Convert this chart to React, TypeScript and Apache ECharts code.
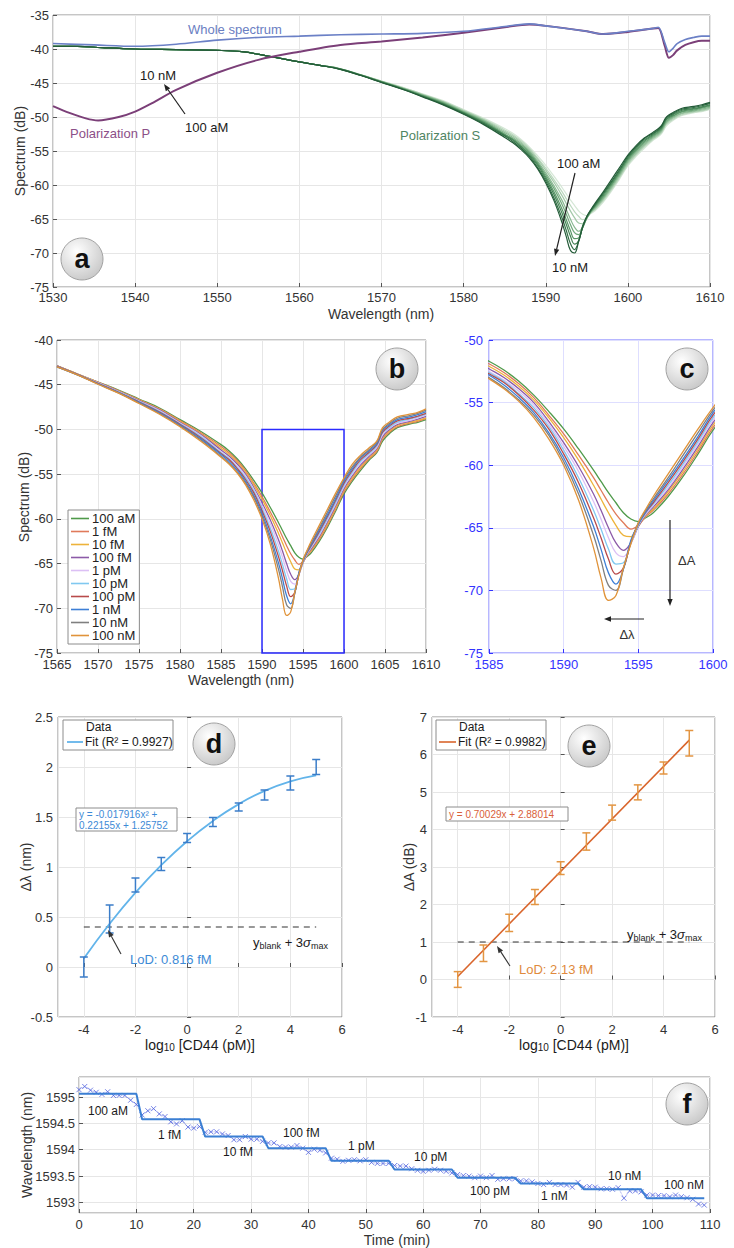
import React, { useEffect, useRef } from 'react';
import * as echarts from 'echarts';

const FONT = "'Liberation Sans', Arial, Helvetica, sans-serif";

// ---------- Concentrations (panels a, b, c) ----------
const concNames = ['100 aM', '1 fM', '10 fM', '100 fM', '1 pM', '10 pM', '100 pM', '1 nM', '10 nM', '100 nM'];
const concColors = ['#4f9a4a', '#e07a5a', '#edb33a', '#8c5aa8', '#dcc0f5', '#80c8f0', '#b84a4a', '#3d7fd6', '#7f7f7f', '#e0933a'];
const greenShades = ['#d5e7d6', '#bcd8bf', '#a3c9a8', '#89b991', '#70a87b', '#589666', '#438354', '#316f45', '#245c39'];

// S-polarization spectra, wavelength (nm)
const wlS = [1565, 1567.5, 1570, 1572.5, 1575, 1577.5, 1580, 1582.5,
  1585, 1586, 1587, 1588, 1589, 1590, 1591, 1592, 1592.5, 1593, 1593.5, 1594, 1594.5, 1595, 1595.5, 1596, 1597, 1598, 1599, 1600,
  1601, 1602, 1603, 1604, 1604.7, 1605.5, 1606.5, 1608, 1609, 1610];

const s100aM = [-42.9, -43.8, -44.7, -45.6, -46.6, -47.6, -48.9, -50.2,
  -51.7, -52.4, -53.3, -54.4, -55.7, -57.1, -58.7, -60.4, -61.3, -62.2, -63.0, -63.8, -64.3, -64.5, -64.2, -63.8, -62.5, -60.9, -59.1, -57.2,
  -55.8, -54.6, -53.5, -52.6, -51.3, -50.5, -49.8, -49.4, -49.2, -48.9];
const s1fM = [-42.9, -43.8, -44.72, -45.65, -46.65, -47.7, -49.0, -50.35,
  -51.9, -52.6, -53.5, -54.6, -56.0, -57.5, -59.2, -61.0, -62.0, -63.0, -63.9, -64.6, -65.1, -64.8, -64.1, -63.6, -62.3, -60.7, -58.9, -57.0,
  -55.6, -54.4, -53.35, -52.45, -51.1, -50.35, -49.7, -49.3, -49.1, -48.8];
const s10fM = [-42.9, -43.8, -44.75, -45.7, -46.7, -47.75, -49.1, -50.45,
  -52.1, -52.8, -53.7, -54.8, -56.2, -57.8, -59.6, -61.6, -62.7, -63.8, -64.8, -65.6, -65.7, -64.9, -64.0, -63.5, -62.1, -60.5, -58.7, -56.8,
  -55.4, -54.2, -53.2, -52.3, -50.9, -50.2, -49.55, -49.2, -49.0, -48.7];
const s100fM = [-42.9, -43.85, -44.78, -45.73, -46.76, -47.82, -49.2, -50.55,
  -52.3, -53.0, -53.9, -55.0, -56.5, -58.2, -60.1, -62.3, -63.6, -65.0, -66.2, -66.8, -66.2, -64.9, -63.95, -63.35, -61.95, -60.3, -58.5, -56.6,
  -55.2, -54.0, -53.05, -52.15, -50.8, -50.05, -49.45, -49.1, -48.85, -48.55];
const s1pM = [-42.95, -43.85, -44.8, -45.77, -46.82, -47.9, -49.28, -50.65,
  -52.5, -53.2, -54.1, -55.2, -56.7, -58.5, -60.5, -62.9, -64.3, -65.8, -67.0, -67.3, -66.3, -64.8, -63.9, -63.2, -61.8, -60.1, -58.3, -56.4,
  -55.0, -53.8, -52.9, -52.0, -50.6, -49.9, -49.3, -49.0, -48.7, -48.4];
const s10pM = [-42.95, -43.85, -44.83, -45.8, -46.87, -47.98, -49.36, -50.78,
  -52.6, -53.3, -54.3, -55.4, -56.9, -58.8, -61.0, -63.6, -65.1, -66.7, -67.9, -67.8, -66.2, -64.8, -63.8, -63.1, -61.6, -59.9, -58.1, -56.2,
  -54.8, -53.6, -52.75, -51.85, -50.4, -49.8, -49.2, -48.85, -48.6, -48.3];
const s100pM = [-42.95, -43.85, -44.86, -45.84, -46.93, -48.06, -49.43, -50.9,
  -52.7, -53.4, -54.4, -55.6, -57.1, -59.1, -61.4, -64.2, -65.8, -67.5, -68.7, -68.2, -66.1, -64.7, -63.75, -63.0, -61.4, -59.7, -57.9, -56.0,
  -54.6, -53.4, -52.6, -51.7, -50.3, -49.65, -49.05, -48.75, -48.5, -48.2];
const s1nM = [-43.0, -43.9, -44.9, -45.88, -46.98, -48.14, -49.5, -51.03,
  -52.8, -53.6, -54.6, -55.8, -57.4, -59.4, -61.9, -64.9, -66.7, -68.6, -69.5, -68.3, -66.0, -64.7, -63.7, -62.85, -61.2, -59.5, -57.7, -55.8,
  -54.4, -53.2, -52.45, -51.55, -50.1, -49.5, -48.9, -48.6, -48.35, -48.0];
const s10nM = [-43.0, -43.9, -44.92, -45.92, -47.04, -48.22, -49.6, -51.16,
  -53.0, -53.8, -54.8, -56.0, -57.6, -59.7, -62.3, -65.6, -67.6, -69.6, -70.0, -68.3, -66.2, -64.6, -63.6, -62.7, -61.0, -59.2, -57.4, -55.6,
  -54.2, -53.1, -52.3, -51.4, -50.0, -49.35, -48.75, -48.45, -48.2, -47.85];
const s100nM = [-43.0, -43.9, -44.95, -45.95, -47.1, -48.3, -49.7, -51.3,
  -53.1, -53.9, -54.9, -56.2, -57.9, -60.0, -62.8, -66.6, -69.0, -70.8, -70.4, -68.2, -66.3, -64.6, -63.5, -62.5, -60.7, -58.9, -57.1, -55.4,
  -53.9, -52.9, -52.1, -51.3, -49.8, -49.2, -48.6, -48.3, -48.1, -47.7];
const sCurves = [s100aM, s1fM, s10fM, s100fM, s1pM, s10pM, s100pM, s1nM, s10nM, s100nM];

// common part of the S spectra in panel a (1530-1562.5 nm)
const wlCommonA = [1530, 1533, 1536, 1540, 1545, 1550, 1553, 1556, 1560, 1562.5];
const sCommonA = [-39.6, -39.6, -39.8, -40.0, -40.1, -40.2, -40.4, -41.0, -41.9, -42.4];

// whole spectrum
const wlWhole = [1530, 1535, 1540, 1545, 1550, 1555, 1560, 1565, 1570, 1575, 1580, 1585, 1588, 1590, 1595, 1597, 1600, 1603, 1603.7, 1604.5, 1605, 1605.5, 1606, 1607, 1608, 1609, 1610];
const wholeVals = [-39.2, -39.4, -39.6, -39.3, -38.7, -38.3, -38.1, -37.9, -37.8, -37.7, -37.4, -36.7, -36.3, -36.6, -37.4, -37.8, -37.4, -37.0, -36.8, -39.1, -40.4, -39.9, -39.2, -38.6, -38.3, -38.1, -38.1];
// polarization P
const wlP = [1530, 1532, 1534, 1535.5, 1538, 1540, 1542, 1545, 1550, 1555, 1560, 1565, 1570, 1575, 1580, 1585, 1588, 1590, 1595, 1597, 1600, 1603, 1603.7, 1604.5, 1605, 1605.5, 1606, 1607, 1608, 1609, 1610];
const pVals = [-48.4, -49.4, -50.2, -50.5, -50.0, -49.2, -48.0, -46.0, -43.5, -41.6, -40.4, -39.4, -38.9, -38.3, -37.6, -36.8, -36.4, -36.6, -37.4, -37.8, -37.5, -37.0, -36.9, -39.6, -41.3, -40.9, -40.2, -39.4, -39.0, -38.8, -38.8];

// zoom box drawn in panel b (region of panel c)
const zoomBoxX = [1590, 1600];
const zoomBoxY = [-75, -50];

// ---------- Panels d, e ----------
const logConc = [-4, -3, -2, -1, 0, 1, 2, 3, 4, 5];
const dMean = [0.0, 0.48, 0.82, 1.03, 1.29, 1.45, 1.6, 1.72, 1.84, 2.0];
const dErr = [0.1, 0.14, 0.07, 0.065, 0.045, 0.045, 0.04, 0.05, 0.07, 0.075];
const dFit = [0.085, 0.432, 0.743, 1.018, 1.258, 1.461, 1.629, 1.761, 1.857, 1.917];
const dThreshold = 0.4;

const eMean = [0.0, 0.7, 1.51, 2.2, 2.97, 3.68, 4.45, 4.99, 5.64, 6.3];
const eErr = [0.21, 0.22, 0.23, 0.2, 0.17, 0.23, 0.2, 0.2, 0.16, 0.34];
const eFitX = [-4, 5];
const eFit = [0.079, 6.382];
const eThreshold = 1.0;

// ---------- Panel f ----------
const fVals = [1595.14, 1595.2, 1595.13, 1595.09, 1595.05, 1595.1, 1595.03, 1595.03, 1595.03, 1594.94,
  1594.86, 1594.66, 1594.74, 1594.78, 1594.68, 1594.63, 1594.53, 1594.49, 1594.55, 1594.43,
  1594.41, 1594.44, 1594.33, 1594.34, 1594.34, 1594.3, 1594.27, 1594.19, 1594.19, 1594.25,
  1594.2, 1594.2, 1594.16, 1594.13, 1594.13, 1594.06, 1594.05, 1594.05, 1594.08, 1594.03,
  1593.95, 1594.01, 1593.99, 1593.94, 1593.84, 1593.82, 1593.78, 1593.8, 1593.81, 1593.79,
  1593.81, 1593.76, 1593.74, 1593.74, 1593.74, 1593.7, 1593.69, 1593.69, 1593.64, 1593.61,
  1593.59, 1593.61, 1593.63, 1593.61, 1593.59, 1593.56, 1593.53, 1593.51, 1593.5, 1593.47,
  1593.5, 1593.47, 1593.51, 1593.44, 1593.45, 1593.45, 1593.45, 1593.41, 1593.41, 1593.39,
  1593.36, 1593.34, 1593.38, 1593.34, 1593.34, 1593.33, 1593.29, 1593.38, 1593.29, 1593.3,
  1593.29, 1593.26, 1593.26, 1593.25, 1593.28, 1593.08, 1593.22, 1593.22, 1593.2, 1593.14,
  1593.14, 1593.13, 1593.13, 1593.11, 1593.14, 1593.11, 1593.09, 1593.06, 1592.97, 1592.95];
const fLevels = [1595.06, 1594.58, 1594.25, 1594.03, 1593.79, 1593.625, 1593.47, 1593.36, 1593.25, 1593.08];
const fStepStart = [0, 11, 22, 33, 44, 55, 66, 77, 88, 99];
const fStepEnd = [10, 21, 32, 43, 54, 65, 76, 87, 98, 109];
const fLabels = ['100 aM', '1 fM', '10 fM', '100 fM', '1 pM', '10 pM', '100 pM', '1 nM', '10 nM', '100 nM'];

// ---------- helpers ----------
const txt = (x: number, y: number, text: string, o: any = {}) => ({
  type: 'text', x, y, z: o.z || 60, silent: true, rotation: o.rot || 0,
  style: {
    text, fill: o.color || '#1a1a1a',
    font: `${o.weight || 'normal'} ${o.size || 13}px ${FONT}`,
    fontFamily: FONT, fontSize: o.size || 13, fontWeight: o.weight || 'normal',
    align: o.align || 'left', textAlign: o.align || 'left',
    verticalAlign: o.va || 'middle', textVerticalAlign: o.va || 'middle',
    rich: o.rich,
  },
});

const arrow = (x1: number, y1: number, x2: number, y2: number, color = '#222', head = 7, width = 1.2) => {
  const ang = Math.atan2(y2 - y1, x2 - x1);
  const hx = x2 - head * Math.cos(ang);
  const hy = y2 - head * Math.sin(ang);
  const px = Math.sin(ang) * head * 0.38;
  const py = -Math.cos(ang) * head * 0.38;
  return [
    { type: 'line', z: 60, silent: true, shape: { x1, y1, x2: hx, y2: hy }, style: { stroke: color, lineWidth: width } },
    { type: 'polygon', z: 60, silent: true, shape: { points: [[x2, y2], [hx + px, hy + py], [hx - px, hy - py]] }, style: { fill: color } },
  ];
};

const badge = (cx: number, cy: number, letter: string) => [
  {
    type: 'circle', z: 70, silent: true, shape: { cx, cy, r: 21 },
    style: {
      fill: new echarts.graphic.RadialGradient(0.38, 0.32, 0.75, [
        { offset: 0, color: '#ffffff' }, { offset: 1, color: '#c6c6c6' },
      ]),
      stroke: '#a2a2a2', lineWidth: 1,
    },
  },
  txt(cx, cy, letter, { size: 27, weight: 'bold', align: 'center', color: '#111', z: 72 }),
];

const AXC = '#8c8c8c';
const GRIDC = '#e6e6e6';
const plain = (v: number) => String(Math.round(v * 1000) / 1000);

const mkAxis = (gi: number, min: number, max: number, interval: number | null, o: any = {}) => {
  const ax: any = {
    type: 'value', gridIndex: gi, min, max,
    axisLine: { show: false },
    axisTick: { show: true, inside: true, length: 4, lineStyle: { color: o.tickColor || '#555' } },
    axisLabel: {
      color: o.labelColor || '#333', fontSize: 13, fontFamily: FONT, margin: o.margin ?? 5,
      showMinLabel: o.showMin ?? true, showMaxLabel: o.showMax ?? true,
      formatter: plain,
    },
    splitLine: { show: true, lineStyle: { color: o.gridColor || GRIDC, width: 1 } },
  };
  if (interval) ax.interval = interval;
  if (o.splitNumber) ax.splitNumber = o.splitNumber;
  return ax;
};

const subRich = (size: number, color = '#333') => ({
  n: { fontSize: size, fontFamily: FONT, color, lineHeight: 15, verticalAlign: 'top' },
  s: { fontSize: size - 4, fontFamily: FONT, color, lineHeight: 11, verticalAlign: 'bottom' },
  g: { fontSize: size, fontFamily: FONT, color, lineHeight: 15, verticalAlign: 'top', fontStyle: 'italic' },
});

export default function App() {
  const ref = useRef<HTMLDivElement>(null);
  useEffect(() => {
    if (!ref.current) return;
    const chart = echarts.init(ref.current, null, { renderer: 'svg' });

    const grids = [
      { left: 53, top: 15, width: 657, height: 272 },
      { left: 57, top: 340, width: 369, height: 313 },
      { left: 489, top: 340, width: 224, height: 313 },
      { left: 58, top: 717, width: 284, height: 300 },
      { left: 432, top: 717, width: 283, height: 300 },
      { left: 79, top: 1077, width: 631, height: 136 },
    ].map((g, i) => ({ ...g, show: true, borderColor: i === 2 ? '#6e6eff' : AXC, borderWidth: 1, backgroundColor: 'rgba(0,0,0,0)' }));

    const blue = '#3333ff';
    const xAxis = [
      mkAxis(0, 1530, 1610, 10, { margin: 4 }),
      mkAxis(1, 1565, 1610, 5, { margin: 5 }),
      mkAxis(2, 1585, 1600, 5, { margin: 5, labelColor: blue, tickColor: blue, gridColor: '#dedeff' }),
      mkAxis(3, -5, 6, null, { margin: 6, showMin: false, splitNumber: 5 }),
      mkAxis(4, -5, 6, null, { margin: 6, showMin: false, splitNumber: 5 }),
      mkAxis(5, 0, 110, 10, { margin: 5 }),
    ];
    const yAxis = [
      mkAxis(0, -75, -35, 5, { margin: 4 }),
      mkAxis(1, -75, -40, 5, { margin: 4 }),
      mkAxis(2, -75, -50, 5, { margin: 6, labelColor: blue, tickColor: blue, gridColor: '#dedeff' }),
      mkAxis(3, -0.5, 2.5, 0.5, { margin: 5 }),
      mkAxis(4, -1, 7, 1, { margin: 5 }),
      mkAxis(5, 1592.8, 1595.38, null, { margin: 4, showMin: false, showMax: false, splitNumber: 5 }),
    ];

    const series: any[] = [];
    // Panel a
    for (let k = 0; k < 9; k++) {
      series.push({
        type: 'line', name: 'a ' + concNames[k], xAxisIndex: 0, yAxisIndex: 0, smooth: 0.4, showSymbol: false, z: 2 + k,
        data: [...wlCommonA.map((w, i) => [w, sCommonA[i]]), ...wlS.map((w, i) => [w, sCurves[k][i]])],
        lineStyle: { color: greenShades[k], width: 1.2 }, itemStyle: { color: greenShades[k] },
      });
    }
    series.push({
      type: 'line', name: 'Polarization P', xAxisIndex: 0, yAxisIndex: 0, smooth: 0.3, showSymbol: false, z: 12,
      data: wlP.map((w, i) => [w, pVals[i]]), lineStyle: { color: '#7b3f78', width: 2 }, itemStyle: { color: '#7b3f78' },
    });
    series.push({
      type: 'line', name: 'Whole spectrum', xAxisIndex: 0, yAxisIndex: 0, smooth: 0.3, showSymbol: false, z: 13,
      data: wlWhole.map((w, i) => [w, wholeVals[i]]), lineStyle: { color: '#6b80c6', width: 1.6 }, itemStyle: { color: '#6b80c6' },
    });
    // Panels b, c
    for (const gi of [1, 2]) {
      for (let k = 0; k < 10; k++) {
        const s: any = {
          type: 'line', name: concNames[k], xAxisIndex: gi, yAxisIndex: gi, smooth: 0.4, showSymbol: false, z: 2 + k,
          data: wlS.map((w, i) => [w, sCurves[k][i]]),
          lineStyle: { color: concColors[k], width: 1.3 }, itemStyle: { color: concColors[k] },
        };
        if (gi === 1 && k === 9) {
          s.markArea = {
            silent: true,
            itemStyle: { color: 'rgba(0,0,0,0)', borderColor: '#2b2bff', borderWidth: 1.5 },
            data: [[{ xAxis: zoomBoxX[0], yAxis: zoomBoxY[1] }, { xAxis: zoomBoxX[1], yAxis: zoomBoxY[0] }]],
          };
        }
        series.push(s);
      }
    }
    // Panels d, e
    const errSeries = (gi: number, mean: number[], err: number[], color: string) => ({
      type: 'custom', name: 'err' + gi, xAxisIndex: gi, yAxisIndex: gi, z: 5,
      data: logConc.map((x, i) => [x, mean[i] - err[i], mean[i] + err[i]]),
      encode: { x: 0, y: [1, 2] },
      renderItem: (params: any, api: any) => {
        const x = api.value(0);
        const top = api.coord([x, api.value(2)]);
        const bot = api.coord([x, api.value(1)]);
        const w = 4;
        const st = { stroke: color, lineWidth: 1.5 };
        return {
          type: 'group',
          children: [
            { type: 'line', shape: { x1: top[0], y1: top[1], x2: bot[0], y2: bot[1] }, style: st },
            { type: 'line', shape: { x1: top[0] - w, y1: top[1], x2: top[0] + w, y2: top[1] }, style: st },
            { type: 'line', shape: { x1: bot[0] - w, y1: bot[1], x2: bot[0] + w, y2: bot[1] }, style: st },
          ],
        };
      },
    });
    series.push({
      type: 'line', name: 'fit d', xAxisIndex: 3, yAxisIndex: 3, smooth: true, showSymbol: false, z: 4,
      data: logConc.map((x, i) => [x, dFit[i]]), lineStyle: { color: '#62b4ea', width: 1.8 }, itemStyle: { color: '#62b4ea' },
    });
    series.push(errSeries(3, dMean, dErr, '#3b7dc9'));
    series.push({
      type: 'line', name: 'thr d', xAxisIndex: 3, yAxisIndex: 3, showSymbol: false, z: 3,
      data: [[logConc[0], dThreshold], [logConc[logConc.length - 1], dThreshold]],
      lineStyle: { color: '#333', width: 1.2, type: [6, 5] }, itemStyle: { color: '#333' },
    });
    series.push({
      type: 'line', name: 'fit e', xAxisIndex: 4, yAxisIndex: 4, showSymbol: false, z: 4,
      data: eFitX.map((x, i) => [x, eFit[i]]), lineStyle: { color: '#d9652c', width: 1.6 }, itemStyle: { color: '#d9652c' },
    });
    series.push(errSeries(4, eMean, eErr, '#e39542'));
    series.push({
      type: 'line', name: 'thr e', xAxisIndex: 4, yAxisIndex: 4, showSymbol: false, z: 3,
      data: [[logConc[0], eThreshold], [logConc[logConc.length - 1], eThreshold]],
      lineStyle: { color: '#333', width: 1.2, type: [6, 5] }, itemStyle: { color: '#333' },
    });
    // Panel f
    series.push({
      type: 'line', name: 'f dotted', xAxisIndex: 5, yAxisIndex: 5, showSymbol: false, z: 3,
      data: fVals.map((v, i) => [i, v]), lineStyle: { color: '#7a86e6', width: 0.8, type: 'dotted' }, itemStyle: { color: '#7a86e6' },
    });
    series.push({
      type: 'scatter', name: 'f data', xAxisIndex: 5, yAxisIndex: 5, z: 4,
      symbol: 'path://M0 0L10 10M10 0L0 10', symbolSize: 5,
      data: fVals.map((v, i) => [i, v]),
      itemStyle: { color: 'rgba(0,0,0,0)', borderColor: '#5465e0', borderWidth: 1 },
    });
    const stepData: number[][] = [];
    fLevels.forEach((lv, i) => { stepData.push([fStepStart[i], lv]); stepData.push([fStepEnd[i], lv]); });
    series.push({
      type: 'line', name: 'f steps', xAxisIndex: 5, yAxisIndex: 5, showSymbol: false, z: 5,
      data: stepData, lineStyle: { color: '#3b7fd3', width: 2 }, itemStyle: { color: '#3b7fd3' },
    });

    const fLabelPos = [[88, 1111], [158, 1135], [223, 1152], [283, 1133], [348, 1146], [414, 1157], [470, 1191], [541, 1196], [608, 1176], [664, 1185]];

    const el: any[] = [
      // panel a
      txt(188, 29, 'Whole spectrum', { color: '#6a7ec2' }),
      txt(70, 133, 'Polarization P', { color: '#8c4f88' }),
      txt(140, 75, '10 nM'),
      txt(185, 127, '100 aM'),
      ...arrow(185, 114, 164, 84),
      txt(400, 135, 'Polarization S', { color: '#4f8563' }),
      txt(557, 163, '100 aM'),
      txt(552, 267, '10 nM'),
      ...arrow(575, 173, 555, 256),
      txt(20, 151, 'Spectrum (dB)', { rot: Math.PI / 2, align: 'center', size: 14, color: '#333' }),
      txt(381, 314, 'Wavelength (nm)', { align: 'center', size: 14, color: '#333' }),
      // panel b
      txt(24, 497, 'Spectrum (dB)', { rot: Math.PI / 2, align: 'center', size: 14, color: '#333' }),
      txt(241, 680, 'Wavelength (nm)', { align: 'center', size: 14, color: '#333' }),
      // panel c
      ...arrow(670, 520, 670, 606, '#222', 7, 1.2),
      txt(678, 560, 'ΔA', { color: '#333' }),
      ...arrow(644, 619, 604, 619, '#222', 7, 1.2),
      txt(627, 634, 'Δλ', { align: 'center', color: '#333' }),
      // panel d
      { type: 'rect', z: 55, silent: true, shape: { x: 63, y: 720, width: 110, height: 30 }, style: { fill: '#fff', stroke: '#8c8c8c', lineWidth: 1 } },
      txt(86, 727, 'Data', { size: 12 }),
      { type: 'line', z: 60, silent: true, shape: { x1: 67, y1: 742, x2: 83, y2: 742 }, style: { stroke: '#62b4ea', lineWidth: 1.8 } },
      txt(85, 742, 'Fit (R² = 0.9927)', { size: 12 }),
      { type: 'rect', z: 55, silent: true, shape: { x: 76, y: 808, width: 101, height: 23 }, style: { fill: '#fff', stroke: '#8c8c8c', lineWidth: 1 } },
      txt(79, 814, 'y = -0.017916x² +', { size: 10, color: '#3d8ad6' }),
      txt(79, 825, '0.22155x + 1.25752', { size: 10, color: '#3d8ad6' }),
      txt(253, 943, '{n|y}{s|blank}{n| + 3}{g|σ}{s|max}', { rich: subRich(13) }),
      ...arrow(121, 954, 108, 930, '#333', 7, 1.1),
      txt(130, 959, 'LoD: 0.816 fM', { color: '#3d8ad6' }),
      txt(26, 867, 'Δλ (nm)', { rot: Math.PI / 2, align: 'center', size: 14, color: '#333' }),
      txt(200, 1045, '{n|log}{s|10}{n| [CD44 (pM)]}', { align: 'center', rich: subRich(14) }),
      // panel e
      { type: 'rect', z: 55, silent: true, shape: { x: 436, y: 720, width: 110, height: 30 }, style: { fill: '#fff', stroke: '#8c8c8c', lineWidth: 1 } },
      txt(459, 727, 'Data', { size: 12 }),
      { type: 'line', z: 60, silent: true, shape: { x1: 439, y1: 742, x2: 456, y2: 742 }, style: { stroke: '#d9652c', lineWidth: 1.6 } },
      txt(458, 742, 'Fit (R² = 0.9982)', { size: 12 }),
      { type: 'rect', z: 55, silent: true, shape: { x: 446, y: 807, width: 122, height: 14 }, style: { fill: '#fff', stroke: '#8c8c8c', lineWidth: 1 } },
      txt(449, 814, 'y = 0.70029x + 2.88014', { size: 10, color: '#d9603a' }),
      txt(627, 935, '{n|y}{s|blank}{n| + 3}{g|σ}{s|max}', { rich: subRich(13) }),
      ...arrow(510, 966, 497, 946, '#333', 7, 1.1),
      txt(519, 969, 'LoD: 2.13 fM', { color: '#e08a3c' }),
      txt(409, 867, 'ΔA (dB)', { rot: Math.PI / 2, align: 'center', size: 14, color: '#333' }),
      txt(574, 1045, '{n|log}{s|10}{n| [CD44 (pM)]}', { align: 'center', rich: subRich(14) }),
      // panel f
      ...fLabels.map((t, i) => txt(fLabelPos[i][0], fLabelPos[i][1], t, { size: 12 })),
      txt(27, 1145, 'Wavelength (nm)', { rot: Math.PI / 2, align: 'center', size: 14, color: '#333' }),
      txt(397, 1240, 'Time (min)', { align: 'center', size: 14, color: '#333' }),
      // badges
      ...badge(82, 259, 'a'),
      ...badge(397, 369, 'b'),
      ...badge(687, 369, 'c'),
      ...badge(214, 744, 'd'),
      ...badge(589, 746, 'e'),
      ...badge(687, 1104, 'f'),
    ];

    chart.setOption({
      animation: false,
      textStyle: { fontFamily: FONT },
      grid: grids,
      xAxis,
      yAxis,
      legend: {
        data: concNames.map((n) => ({ name: n, icon: 'rect' })),
        orient: 'vertical', left: 68, top: 510,
        itemWidth: 18, itemHeight: 1.6, itemGap: 0,
        padding: [2, 4, 2, 3],
        backgroundColor: '#fff', borderColor: '#8c8c8c', borderWidth: 1,
        textStyle: { fontSize: 13, lineHeight: 12.7, color: '#222', fontFamily: FONT, padding: [0, 0, 0, -2] },
        selectedMode: false,
      },
      series,
      graphic: { elements: el },
    });
    return () => chart.dispose();
  }, []);
  return <div ref={ref} style={{ position: 'absolute', left: 0, top: 0, width: 734, height: 1248, background: '#fff' }} />;
}
